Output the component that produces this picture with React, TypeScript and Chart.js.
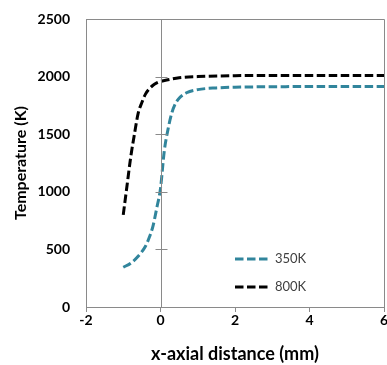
import React, { useEffect, useRef } from "react";
import { Chart, registerables } from "chart.js";

Chart.register(...registerables);

const x350 = [-1.0, -0.8, -0.6, -0.4, -0.3, -0.2, -0.1, 0, 0.1, 0.2, 0.3, 0.4, 0.5, 0.7, 1.0, 1.5, 2, 3, 4, 5, 6];
const y350 = [345, 380, 440, 530, 605, 705, 860, 1030, 1350, 1540, 1680, 1765, 1812, 1860, 1887, 1902, 1908, 1912, 1914, 1915, 1915];

const x800 = [-1.0, -0.9, -0.8, -0.7, -0.6, -0.5, -0.4, -0.3, -0.2, -0.1, 0, 0.2, 0.5, 1.0, 2, 3, 4, 5, 6];
const y800 = [800, 1050, 1300, 1500, 1680, 1775, 1850, 1895, 1925, 1945, 1958, 1973, 1990, 2000, 2008, 2010, 2010, 2010, 2010];

const seriesLabels = ["350K", "800K"];
const seriesColors = ["#31859C", "#000000"];
const xTitle = "x-axial distance (mm)";
const yTitle = "Temperature (K)";

const FONT = "Lato, 'Open Sans', sans-serif";
const GRAY = "#8a8a8a";

const framePlugin = {
  id: "frame",
  afterDatasetsDraw(chart: any) {
    const { ctx, chartArea, scales } = chart;
    const { left, right, top, bottom } = chartArea;
    ctx.save();
    ctx.strokeStyle = GRAY;
    ctx.lineWidth = 1;
    ctx.beginPath();
    ctx.moveTo(left, top + 0.5);
    ctx.lineTo(right + 0.5, top + 0.5);
    ctx.lineTo(right + 0.5, bottom);
    ctx.stroke();
    const x0 = Math.round(scales.x.getPixelForValue(0)) + 0.5;
    ctx.beginPath();
    ctx.moveTo(x0, top);
    ctx.lineTo(x0, bottom);
    scales.y.ticks.forEach((t: any) => {
      const yp = Math.round(scales.y.getPixelForValue(t.value)) + 0.5;
      if (t.value > 0 && t.value < 2500) {
        ctx.moveTo(x0 - 6, yp);
        ctx.lineTo(x0 + 6, yp);
      }
    });
    ctx.stroke();
    ctx.restore();
  },
  afterDraw(chart: any) {
    const { ctx, chartArea } = chart;
    const { left, right, bottom } = chartArea;
    const sx = left + (right - left) * 0.5;
    const ys = [bottom - 48, bottom - 20];
    ctx.save();
    chart.data.datasets.forEach((ds: any, i: number) => {
      ctx.strokeStyle = ds.borderColor;
      ctx.lineWidth = 3;
      ctx.setLineDash([8.5, 3.5]);
      ctx.beginPath();
      ctx.moveTo(sx, ys[i]);
      ctx.lineTo(sx + 33, ys[i]);
      ctx.stroke();
      ctx.setLineDash([]);
      ctx.fillStyle = "#404040";
      ctx.font = `13px ${FONT}`;
      ctx.textBaseline = "middle";
      ctx.textAlign = "left";
      ctx.fillText(ds.label, sx + 40, ys[i]);
    });
    ctx.restore();
  },
};

export default function App() {
  const ref = useRef<HTMLCanvasElement>(null);
  useEffect(() => {
    if (!ref.current) return;
    const mk = (xs: number[], ys: number[]) => xs.map((x, i) => ({ x, y: ys[i] }));
    const chart = new Chart(ref.current, {
      type: "line",
      data: {
        datasets: [
          {
            label: seriesLabels[0],
            data: mk(x350, y350),
            borderColor: seriesColors[0],
            borderWidth: 3,
            borderDash: [8.5, 3.5],
            pointRadius: 0,
            cubicInterpolationMode: "monotone",
            fill: false,
          },
          {
            label: seriesLabels[1],
            data: mk(x800, y800),
            borderColor: seriesColors[1],
            borderWidth: 3,
            borderDash: [8.5, 3.5],
            pointRadius: 0,
            cubicInterpolationMode: "monotone",
            fill: false,
          },
        ],
      },
      options: {
        animation: false,
        responsive: false,
        maintainAspectRatio: false,
        layout: { padding: { top: 19, right: 3, left: 0, bottom: 0 } },
        plugins: { legend: { display: false }, tooltip: { enabled: false } },
        scales: {
          x: {
            type: "linear",
            min: -2,
            max: 6,
            ticks: { stepSize: 2, color: "#000", font: { family: FONT, size: 14, weight: "bold" }, padding: 0, maxRotation: 0, callback: (v: any) => String(v) },
            grid: { display: true, drawOnChartArea: false, drawTicks: true, tickLength: 5, color: GRAY },
            border: { display: true, color: GRAY, width: 1 },
            title: { display: true, text: xTitle, color: "#000", font: { family: FONT, size: 18, weight: "bold" }, padding: { top: 0, bottom: 0 } },
            afterFit(scale: any) {
              scale.height = 58;
              scale.paddingRight = 0;
            },
          },
          y: {
            type: "linear",
            min: 0,
            max: 2500,
            ticks: { stepSize: 500, color: "#000", font: { family: FONT, size: 14, weight: "bold" }, padding: 16, callback: (v: any) => String(v) },
            grid: { display: false, drawTicks: false },
            border: { display: true, color: GRAY, width: 1 },
            title: { display: true, text: yTitle, color: "#000", font: { family: FONT, size: 16, weight: "bold" }, padding: { top: 11, bottom: 0 } },
            afterFit(scale: any) {
              scale.width = 86;
              scale.paddingTop = 0;
              scale.paddingBottom = 0;
            },
          },
        },
      },
      plugins: [framePlugin],
    } as any);
    return () => chart.destroy();
  }, []);
  return (
    <div style={{ position: "absolute", left: 0, top: 0, width: 387, height: 365, background: "#fff" }}>
      <canvas ref={ref} width={387} height={365} style={{ width: 387, height: 365, display: "block" }} />
    </div>
  );
}
